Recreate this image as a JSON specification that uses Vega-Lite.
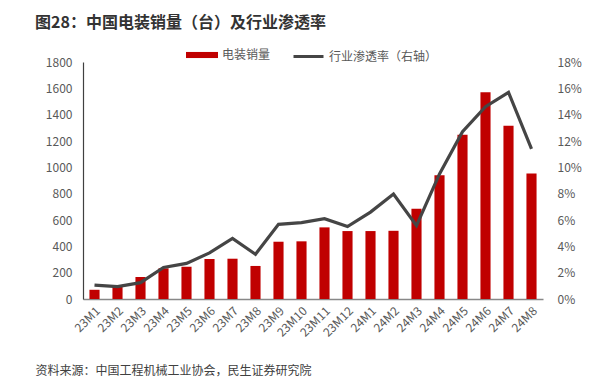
{
  "$schema": "https://vega.github.io/schema/vega-lite/v6.json",
  "width": 460,
  "height": 237,
  "autosize": {"type": "none"},
  "padding": {"left": 83, "top": 62, "right": 63, "bottom": 78},
  "background": "white",
  "config": {
    "view": {"stroke": null},
    "font": "Noto Sans CJK SC"
  },
  "title": {
    "text": "图28：中国电装销量（台）及行业渗透率",
    "anchor": "start",
    "frame": "group",
    "dx": -48,
    "fontSize": 16,
    "fontWeight": "bold",
    "color": "#333333",
    "font": "Noto Sans CJK SC",
    "offset": 8
  },
  "data": {
    "values": [
      {"month": "23M1", "sales": 70, "rate": 0.0106},
      {"month": "23M2", "sales": 91, "rate": 0.0094},
      {"month": "23M3", "sales": 167, "rate": 0.0124},
      {"month": "23M4", "sales": 233, "rate": 0.024},
      {"month": "23M5", "sales": 245, "rate": 0.027},
      {"month": "23M6", "sales": 304, "rate": 0.035},
      {"month": "23M7", "sales": 306, "rate": 0.046},
      {"month": "23M8", "sales": 251, "rate": 0.034},
      {"month": "23M9", "sales": 435, "rate": 0.0567},
      {"month": "23M10", "sales": 438, "rate": 0.058},
      {"month": "23M11", "sales": 544, "rate": 0.061},
      {"month": "23M12", "sales": 516, "rate": 0.055},
      {"month": "24M1", "sales": 516, "rate": 0.066},
      {"month": "24M2", "sales": 518, "rate": 0.0797},
      {"month": "24M3", "sales": 686, "rate": 0.0557},
      {"month": "24M4", "sales": 939, "rate": 0.095},
      {"month": "24M5", "sales": 1248, "rate": 0.127},
      {"month": "24M6", "sales": 1570, "rate": 0.146},
      {"month": "24M7", "sales": 1316, "rate": 0.157},
      {"month": "24M8", "sales": 954, "rate": 0.114}
    ]
  },
  "encoding": {
    "x": {
      "field": "month",
      "type": "nominal",
      "sort": null,
      "scale": {"paddingInner": 0.56, "paddingOuter": 0.28},
      "axis": {
        "title": "资料来源：中国工程机械工业协会，民生证券研究院",
        "titleX": -48,
        "titleY": 71,
        "titleAlign": "left",
        "titleAnchor": "start",
        "titleBaseline": "middle",
        "titleFontSize": 12,
        "titleFontWeight": "normal",
        "titleColor": "#404040",
        "titleFont": "Noto Sans CJK SC",
        "labelAngle": -45,
        "labelFontSize": 12,
        "labelColor": "#595959",
        "labelFont": "Noto Sans CJK SC",
        "labelPadding": 6,
        "ticks": false,
        "domainColor": "#888888",
        "domainWidth": 1.5,
        "grid": false
      }
    }
  },
  "layer": [
    {
      "mark": {"type": "bar", "color": "#C00000"},
      "encoding": {
        "y": {
          "field": "sales",
          "type": "quantitative",
          "scale": {"domain": [0, 1800], "nice": false},
          "axis": {
            "title": null,
            "format": "d",
            "values": [0, 200, 400, 600, 800, 1000, 1200, 1400, 1600, 1800],
            "grid": false,
            "ticks": false,
            "labelPadding": 11,
            "labelFontSize": 12,
            "labelColor": "#595959",
            "labelFont": "Noto Sans CJK SC",
            "domainColor": "#404040",
            "domainWidth": 1.2
          }
        },
        "fill": {
          "datum": "电装销量",
          "type": "nominal",
          "scale": {"range": ["#C00000"]},
          "legend": {
            "orient": "none",
            "legendX": 103,
            "legendY": -23,
            "title": null,
            "padding": 0,
            "symbolType": "M-1,-0.19H1V0.19H-1Z",
            "symbolSize": 1024,
            "symbolStrokeWidth": 0,
            "labelFontSize": 12,
            "labelColor": "#595959",
            "labelFont": "Noto Sans CJK SC",
            "labelOffset": 4
          }
        }
      }
    },
    {
      "mark": {"type": "line", "strokeWidth": 3.2},
      "encoding": {
        "y": {
          "field": "rate",
          "type": "quantitative",
          "scale": {"domain": [0, 0.18], "nice": false},
          "axis": {
            "orient": "right",
            "title": null,
            "format": ".0%",
            "values": [0, 0.02, 0.04, 0.06, 0.08, 0.1, 0.12, 0.14, 0.16, 0.18],
            "grid": false,
            "ticks": false,
            "domain": false,
            "labelPadding": 14,
            "labelFontSize": 12,
            "labelColor": "#595959",
            "labelFont": "Noto Sans CJK SC"
          }
        },
        "stroke": {
          "datum": "行业渗透率（右轴）",
          "type": "nominal",
          "scale": {"range": ["#454545"]},
          "legend": {
            "orient": "none",
            "legendX": 209,
            "legendY": -22,
            "title": null,
            "padding": 0,
            "symbolType": "stroke",
            "symbolSize": 900,
            "symbolStrokeWidth": 3,
            "labelFontSize": 12,
            "labelColor": "#595959",
            "labelFont": "Noto Sans CJK SC",
            "labelOffset": 4
          }
        }
      }
    }
  ],
  "resolve": {"scale": {"y": "independent", "fill": "independent", "stroke": "independent"}}
}
